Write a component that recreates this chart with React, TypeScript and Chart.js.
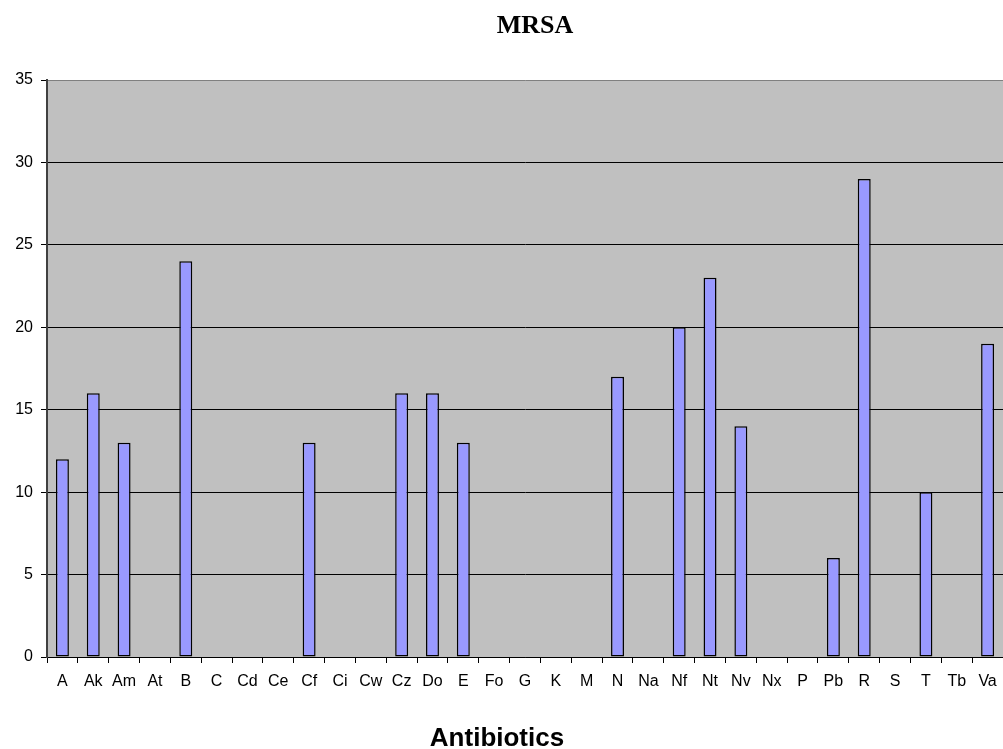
import React, { useEffect, useRef } from "react";
import { Chart, registerables } from "chart.js";

Chart.register(...registerables);

const categories = ["A", "Ak", "Am", "At", "B", "C", "Cd", "Ce", "Cf", "Ci", "Cw", "Cz", "Do", "E", "Fo", "G", "K", "M", "N", "Na", "Nf", "Nt", "Nv", "Nx", "P", "Pb", "R", "S", "T", "Tb", "Va"];
const mrsaValues = [12, 16, 13, 0, 24, 0, 0, 0, 13, 0, 0, 16, 16, 13, 0, 0, 0, 0, 17, 0, 20, 23, 14, 0, 0, 6, 29, 0, 10, 0, 19];
const chartTitle = "MRSA";
const xAxisTitle = "Antibiotics";

const W = 1003;
const H = 749;

export default function App() {
  const ref = useRef<HTMLCanvasElement | null>(null);

  useEffect(() => {
    if (!ref.current) return;
    const bgPlugin = {
      id: "plotBg",
      beforeDraw(chart: any) {
        const { ctx, chartArea } = chart;
        ctx.save();
        ctx.fillStyle = "#C0C0C0";
        ctx.fillRect(chartArea.left, chartArea.top, chartArea.right - chartArea.left, chartArea.bottom - chartArea.top);
        ctx.restore();
      },
      afterDraw(chart: any) {
        const { ctx } = chart;
        ctx.save();
        ctx.fillStyle = "#000";
        ctx.textAlign = "center";
        ctx.textBaseline = "alphabetic";
        ctx.font = "bold 26px 'Times New Roman', 'Liberation Serif', serif";
        ctx.fillText(chartTitle, 535, 33);
        ctx.font = "bold 26px Arial, 'Liberation Sans', sans-serif";
        ctx.fillText(xAxisTitle, 497, 746);
        ctx.restore();
      },
    };

    const chart = new Chart(ref.current, {
      type: "bar",
      data: {
        labels: categories,
        datasets: [
          {
            label: chartTitle,
            data: mrsaValues,
            backgroundColor: "#9999FF",
            borderColor: "#000000",
            borderWidth: 1.5,
            borderSkipped: false,
            categoryPercentage: 1,
            barPercentage: 0.42,
          },
        ],
      },
      options: {
        animation: false,
        responsive: false,
        maintainAspectRatio: false,
        layout: { padding: { top: 80, right: 0, left: 0, bottom: 0 } },
        plugins: {
          legend: { display: false },
          title: { display: false },
          tooltip: { enabled: false },
        },
        scales: {
          x: {
            offset: true,
            grid: {
              offset: true,
              drawOnChartArea: false,
              drawTicks: true,
              tickLength: 6,
              color: "#000",
              tickColor: "#000",
            },
            border: { color: "#000", width: 1 },
            ticks: {
              color: "#000",
              padding: 9,
              maxRotation: 0,
              autoSkip: false,
              font: { family: "Arial, 'Liberation Sans', sans-serif", size: 16 },
            },
            afterFit(scale: any) {
              scale.height = H - 657;
              scale.paddingRight = 0;
              scale.paddingLeft = 0;
            },
          },
          y: {
            min: 0,
            max: 35,
            ticks: {
              stepSize: 5,
              color: "#000",
              padding: 8,
              font: { family: "Arial, 'Liberation Sans', sans-serif", size: 16 },
            },
            grid: {
              color: (c: any) => (c.tick && c.tick.value === 35 ? "#808080" : "#000"),
              tickColor: "#000",
              tickLength: 6,
              lineWidth: 1,
            },
            border: { color: "#404040", width: 2 },
            afterFit(scale: any) {
              scale.width = 47;
            },
          },
        },
      },
      plugins: [bgPlugin],
    });
    return () => chart.destroy();
  }, []);

  return (
    <div style={{ position: "fixed", left: 0, top: 0, width: W, height: H, background: "#fff" }}>
      <canvas ref={ref} width={W} height={H} style={{ width: W, height: H, display: "block" }} />
    </div>
  );
}
